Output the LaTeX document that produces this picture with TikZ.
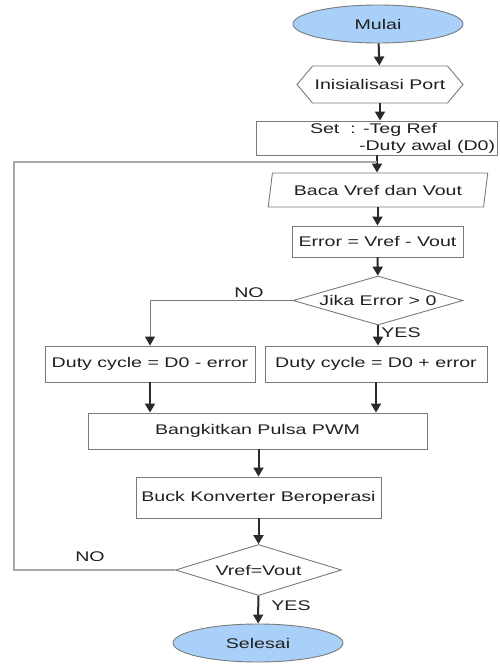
\documentclass[tikz,border=0pt]{standalone}
\usepackage{fontspec}
\setmainfont{Liberation Sans}[FakeStretch=1.4]
\usetikzlibrary{shapes.geometric,shapes.symbols,arrows.meta}
\definecolor{bord}{HTML}{7A7A7A}
\definecolor{arr}{HTML}{2A2A2A}
\definecolor{ovalfill}{HTML}{A8D0F8}
\definecolor{txt}{HTML}{202020}
\definecolor{loopc}{HTML}{A8A8A8}
\begin{document}
\begin{tikzpicture}[x=1pt,y=-1pt,
  every node/.style={font=\fontsize{14}{17}\selectfont, text=txt},
  box/.style={draw=bord, line width=0.9pt, rectangle, inner sep=0pt},
  oval/.style={draw=bord, line width=0.9pt, ellipse, fill=ovalfill, inner sep=0pt, minimum width=170pt, minimum height=38pt},
  hexa/.style={draw=bord, line width=0.9pt, signal, signal to=east and west, signal pointer angle=100, inner sep=0pt, minimum width=166pt, minimum height=37pt},
  io/.style={draw=bord, line width=0.9pt, trapezium, trapezium left angle=72, trapezium right angle=108, trapezium stretches=true, inner sep=0pt, minimum width=220pt, minimum height=34pt},
  dec/.style={draw=bord, line width=0.9pt, diamond, aspect=3.4, inner sep=0pt},
  flow/.style={draw=arr, line width=2pt, -{Triangle[width=10pt,length=9pt]}},
  side/.style={draw=bord, line width=1pt, -{Triangle[width=10pt,length=9pt,color=arr]}},
  loopline/.style={draw=loopc, line width=2pt},
  lbl/.style={inner sep=0pt}
]
\useasboundingbox (0,0) rectangle (499,664);

\node[oval] (mulai) at (378,24) {Mulai};
\node[hexa] (init) at (380,84.5) {Inisialisasi Port};
\node[box, minimum width=241pt, minimum height=34pt, align=center] (set) at (376.5,138)
  {\makebox[241pt][l]{\hspace*{54pt}Set\ \ : -Teg Ref}\\\makebox[241pt][l]{\hspace*{103pt}-Duty awal (D0)}};
\node[io] (baca) at (378,190) {Baca Vref dan Vout};
\node[box, minimum width=171pt, minimum height=31pt] (err) at (377.5,241.5) {Error = Vref - Vout};
\node[dec, minimum width=170pt, minimum height=49pt] (jika) at (378,300.5) {Jika Error > 0};
\node[box, minimum width=210pt, minimum height=36pt] (dl) at (150,364) {Duty cycle = D0 - error};
\node[box, minimum width=222pt, minimum height=36pt] (dr) at (376,364) {Duty cycle = D0 + error};
\node[box, minimum width=339pt, minimum height=36pt] (pwm) at (257.5,431) {Bangkitkan Pulsa PWM};
\node[box, minimum width=245pt, minimum height=41pt] (buck) at (258.5,497.5) {Buck Konverter Beroperasi};
\node[dec, minimum width=166pt, minimum height=51pt] (cek) at (258.5,570) {Vref=Vout};
\node[oval] (selesai) at (258,643) {Selesai};

\node[lbl] (no1) at (249,293) {NO};
\node[lbl] (yes1) at (401,333) {YES};
\node[lbl] (no2) at (90,557) {NO};
\node[lbl] (yes2) at (291,606) {YES};

\coordinate (join) at (377,162);
\coordinate (lcorner) at (14,570);

\draw[flow] (mulai) -- (init);
\draw[flow] (init.south) -- (init.south |- set.north);
\draw[flow] (set.south -| join) -- (baca.north -| join);
\draw[flow] (baca.south -| err.north) -- (err.north);
\draw[flow] (err) -- (jika);
\draw[side] (jika.west) -| (dl.north);
\draw[flow] (jika.south) -- (jika.south |- dr.north);
\draw[flow] (dl.south) -- (dl.south |- pwm.north);
\draw[flow] (dr.south) -- (dr.south |- pwm.north);
\draw[flow] (pwm.south -| buck.north) -- (buck.north);
\draw[flow] (buck) -- (cek);
\draw[flow] (cek) -- (selesai);
\draw[loopline] (cek.west) -- (lcorner) |- (join);
\end{tikzpicture}
\end{document}
